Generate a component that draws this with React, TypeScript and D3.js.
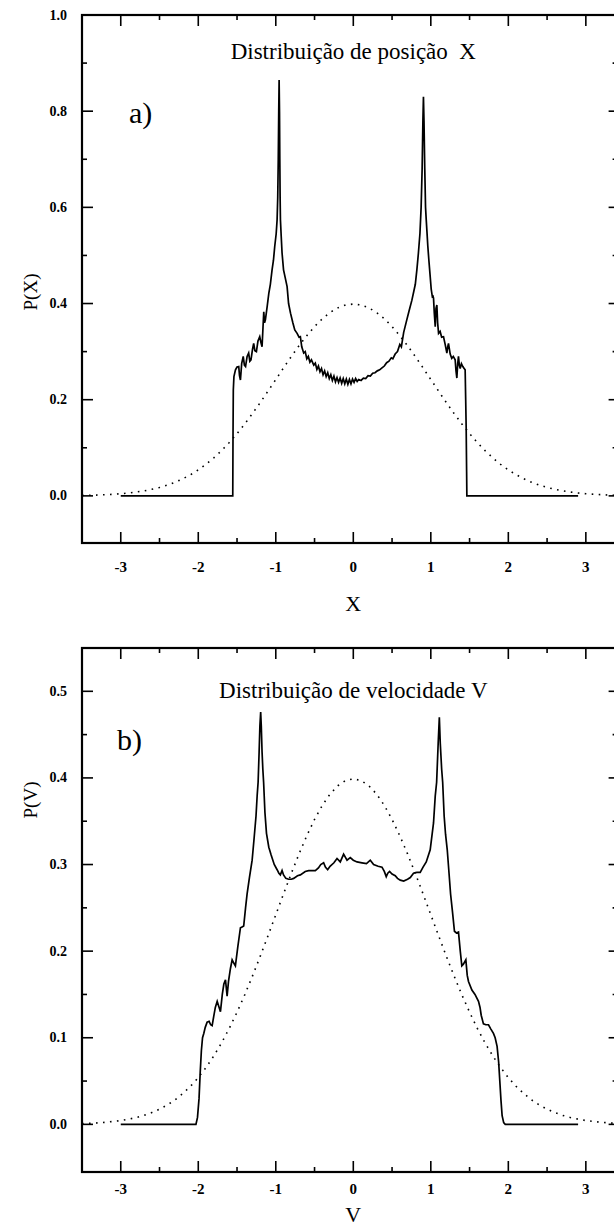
import React from 'react';
import * as d3 from 'd3';

const W = 614;
const H = 1230;

// ---------- tick values ----------
const xMajor = [-3, -2, -1, 0, 1, 2, 3];
const xMinor = [-2.5, -1.5, -0.5, 0.5, 1.5, 2.5];
const xLabels = ['-3', '-2', '-1', '0', '1', '2', '3'];
const posYMajor = [0, 0.2, 0.4, 0.6, 0.8, 1.0];
const posYMinor = [0.1, 0.3, 0.5, 0.7, 0.9];
const velYMajor = [0, 0.1, 0.2, 0.3, 0.4, 0.5];
const velYMinor = [0.05, 0.15, 0.25, 0.35, 0.45];

// ---------- reference normal curve (dotted) ----------
const normX = [-3.5,-3.4,-3.3,-3.2,-3.1,-3.0,-2.9,-2.8,-2.7,-2.6,-2.5,-2.4,-2.3,-2.2,-2.1,-2.0,-1.9,-1.8,-1.7,-1.6,-1.5,-1.4,-1.3,-1.2,-1.1,-1.0,-0.9,-0.8,-0.7,-0.6,-0.5,-0.4,-0.3,-0.2,-0.1,0.0,0.1,0.2,0.3,0.4,0.5,0.6,0.7,0.8,0.9,1.0,1.1,1.2,1.3,1.4,1.5,1.6,1.7,1.8,1.9,2.0,2.1,2.2,2.3,2.4,2.5,2.6,2.7,2.8,2.9,3.0,3.1,3.2,3.3,3.4,3.5];
const normP = [0.0009,0.0012,0.0017,0.0024,0.0033,0.0044,0.006,0.0079,0.0104,0.0136,0.0175,0.0224,0.0283,0.0355,0.044,0.054,0.0656,0.079,0.094,0.1109,0.1295,0.1497,0.1714,0.1942,0.2179,0.242,0.2661,0.2897,0.3123,0.3332,0.3521,0.3683,0.3814,0.391,0.397,0.3989,0.397,0.391,0.3814,0.3683,0.3521,0.3332,0.3123,0.2897,0.2661,0.242,0.2179,0.1942,0.1714,0.1497,0.1295,0.1109,0.094,0.079,0.0656,0.054,0.044,0.0355,0.0283,0.0224,0.0175,0.0136,0.0104,0.0079,0.006,0.0044,0.0033,0.0024,0.0017,0.0012,0.0009];

// ---------- position distribution P(X) ----------
const posX = [-3.0,-1.555,-1.552,-1.548,-1.54,-1.52,-1.5,-1.478,-1.468,-1.456,-1.44,-1.42,-1.405,-1.39,-1.37,-1.35,-1.335,-1.32,-1.3,-1.285,-1.27,-1.25,-1.23,-1.207,-1.19,-1.177,-1.165,-1.155,-1.145,-1.134,-1.11,-1.09,-1.07,-1.048,-1.03,-1.014,-0.995,-0.983,-0.975,-0.968,-0.962,-0.957,-0.952,-0.948,-0.944,-0.94,-0.93,-0.919,-0.9,-0.88,-0.854,-0.835,-0.81,-0.78,-0.755,-0.725,-0.7,-0.683,-0.665,-0.64,-0.62,-0.6,-0.58,-0.56,-0.54,-0.51,-0.49,-0.47,-0.45,-0.43,-0.41,-0.39,-0.37,-0.35,-0.33,-0.31,-0.29,-0.27,-0.25,-0.23,-0.21,-0.19,-0.17,-0.15,-0.13,-0.11,-0.09,-0.07,-0.05,-0.03,-0.01,0.01,0.03,0.05,0.07,0.1,0.13,0.16,0.19,0.22,0.25,0.28,0.31,0.34,0.37,0.4,0.43,0.46,0.49,0.51,0.54,0.57,0.6,0.62,0.65,0.69,0.72,0.756,0.78,0.8,0.82,0.84,0.86,0.875,0.888,0.898,0.905,0.912,0.922,0.932,0.941,0.95,0.961,0.975,0.99,1.005,1.02,1.028,1.035,1.045,1.057,1.067,1.078,1.088,1.1,1.12,1.14,1.164,1.185,1.207,1.218,1.228,1.25,1.27,1.29,1.314,1.325,1.336,1.347,1.357,1.368,1.379,1.395,1.413,1.43,1.443,1.45,1.456,1.462,1.465,2.9];
const posP = [0,0,0.12,0.22,0.248,0.262,0.268,0.269,0.25,0.241,0.275,0.29,0.272,0.269,0.29,0.297,0.28,0.283,0.305,0.317,0.302,0.3,0.322,0.331,0.318,0.31,0.35,0.383,0.36,0.366,0.395,0.421,0.44,0.47,0.49,0.518,0.545,0.574,0.62,0.7,0.8,0.865,0.8,0.7,0.62,0.574,0.54,0.505,0.47,0.455,0.435,0.4,0.38,0.36,0.345,0.338,0.33,0.331,0.31,0.297,0.3,0.285,0.29,0.278,0.283,0.272,0.276,0.263,0.27,0.258,0.265,0.252,0.26,0.248,0.256,0.244,0.252,0.24,0.249,0.237,0.246,0.236,0.245,0.234,0.244,0.233,0.243,0.232,0.242,0.233,0.243,0.236,0.244,0.238,0.242,0.24,0.245,0.244,0.25,0.249,0.255,0.256,0.26,0.262,0.266,0.27,0.277,0.28,0.287,0.285,0.295,0.3,0.315,0.31,0.34,0.366,0.385,0.407,0.425,0.44,0.47,0.505,0.546,0.6,0.68,0.78,0.83,0.78,0.68,0.6,0.574,0.55,0.52,0.49,0.46,0.43,0.414,0.415,0.411,0.38,0.352,0.39,0.397,0.36,0.338,0.342,0.33,0.331,0.315,0.297,0.31,0.317,0.295,0.286,0.29,0.283,0.26,0.245,0.275,0.29,0.272,0.265,0.275,0.269,0.265,0.262,0.2,0.144,0.05,0,0];

// ---------- velocity distribution P(V) ----------
const velX = [-3.0,-2.03,-2.01,-1.99,-1.975,-1.96,-1.945,-1.929,-1.91,-1.886,-1.86,-1.84,-1.821,-1.8,-1.78,-1.756,-1.735,-1.714,-1.69,-1.67,-1.649,-1.628,-1.61,-1.585,-1.563,-1.54,-1.521,-1.49,-1.456,-1.435,-1.414,-1.39,-1.37,-1.34,-1.305,-1.28,-1.255,-1.24,-1.228,-1.215,-1.205,-1.195,-1.187,-1.177,-1.167,-1.157,-1.14,-1.12,-1.09,-1.06,-1.02,-0.983,-0.96,-0.941,-0.919,-0.9,-0.87,-0.834,-0.8,-0.769,-0.72,-0.683,-0.62,-0.576,-0.49,-0.45,-0.42,-0.383,-0.36,-0.331,-0.3,-0.25,-0.21,-0.168,-0.125,-0.081,-0.039,0.0,0.048,0.112,0.17,0.219,0.262,0.32,0.37,0.4,0.425,0.445,0.468,0.5,0.541,0.57,0.606,0.65,0.7,0.735,0.777,0.82,0.863,0.9,0.941,0.992,1.035,1.057,1.075,1.095,1.11,1.122,1.14,1.153,1.172,1.19,1.212,1.235,1.255,1.28,1.305,1.33,1.357,1.38,1.4,1.42,1.452,1.47,1.486,1.53,1.57,1.615,1.635,1.65,1.679,1.71,1.744,1.775,1.808,1.83,1.855,1.875,1.89,1.905,1.92,1.94,1.96,2.9];
const velP = [0,0,0.008,0.03,0.06,0.085,0.1,0.105,0.112,0.118,0.119,0.115,0.114,0.125,0.135,0.142,0.136,0.13,0.15,0.162,0.167,0.148,0.165,0.18,0.19,0.186,0.183,0.205,0.227,0.228,0.229,0.25,0.266,0.285,0.305,0.33,0.356,0.38,0.395,0.43,0.46,0.476,0.46,0.43,0.41,0.395,0.36,0.336,0.32,0.311,0.3,0.294,0.29,0.288,0.293,0.288,0.284,0.283,0.283,0.284,0.287,0.288,0.292,0.293,0.293,0.296,0.3,0.302,0.297,0.294,0.298,0.302,0.307,0.303,0.312,0.305,0.308,0.305,0.303,0.302,0.301,0.305,0.3,0.298,0.297,0.292,0.286,0.29,0.292,0.289,0.287,0.284,0.282,0.281,0.283,0.285,0.29,0.291,0.291,0.297,0.303,0.317,0.348,0.379,0.395,0.44,0.47,0.44,0.41,0.395,0.356,0.335,0.317,0.29,0.266,0.245,0.223,0.221,0.222,0.2,0.183,0.185,0.19,0.172,0.165,0.155,0.15,0.142,0.135,0.126,0.116,0.115,0.115,0.11,0.105,0.1,0.09,0.072,0.05,0.028,0.01,0.002,0,0];

const FONT = '"Liberation Serif", "Times New Roman", serif';

type PanelProps = {
  y: d3.ScaleLinear<number, number>;
  yMajor: number[];
  yMinor: number[];
  yFmt: (v: number) => string;
  dataX: number[];
  dataY: number[];
  title: string;
  titleY: number;
  tag: string;
  tagX: number;
  tagY: number;
  yLabel: string;
  yLabelY: number;
  xLabel: string;
  tickLabelDy: number;
  xLabelDy: number;
};

const x = d3.scaleLinear().domain([-3.5, 3.5]).range([82, 624.6]);

function Panel(p: PanelProps) {
  const [yBot, yTop] = p.y.range();
  const xl = x.range()[0];
  const xr = x.range()[1];
  const n = Math.min(p.dataX.length, p.dataY.length);
  const idx = d3.range(n);
  const line = d3.line<number>().x(i => x(p.dataX[i])).y(i => p.y(p.dataY[i]));
  const nIdx = d3.range(Math.min(normX.length, normP.length));
  const dline = d3.line<number>().x(i => x(normX[i])).y(i => p.y(normP[i]));
  const major = 11;
  const minor = 5;
  const cx = x(0);
  return (
    <g>
      <rect x={xl} y={yTop} width={xr - xl} height={yBot - yTop} fill="none" stroke="#000" strokeWidth={2.2} />
      {xMajor.map(v => (
        <g key={'xm' + v}>
          <line x1={x(v)} x2={x(v)} y1={yBot} y2={yBot - major} stroke="#000" strokeWidth={1.6} />
          <line x1={x(v)} x2={x(v)} y1={yTop} y2={yTop + major} stroke="#000" strokeWidth={1.6} />
        </g>
      ))}
      {xMinor.map(v => (
        <g key={'xn' + v}>
          <line x1={x(v)} x2={x(v)} y1={yBot} y2={yBot - minor} stroke="#000" strokeWidth={1.6} />
          <line x1={x(v)} x2={x(v)} y1={yTop} y2={yTop + minor} stroke="#000" strokeWidth={1.6} />
        </g>
      ))}
      {p.yMajor.map(v => (
        <g key={'ym' + v}>
          <line x1={xl} x2={xl + major} y1={p.y(v)} y2={p.y(v)} stroke="#000" strokeWidth={1.6} />
          <line x1={xr} x2={xr - 16} y1={p.y(v)} y2={p.y(v)} stroke="#000" strokeWidth={1.6} />
        </g>
      ))}
      {p.yMinor.map(v => (
        <g key={'yn' + v}>
          <line x1={xl} x2={xl + minor} y1={p.y(v)} y2={p.y(v)} stroke="#000" strokeWidth={1.6} />
          <line x1={xr} x2={xr - 12} y1={p.y(v)} y2={p.y(v)} stroke="#000" strokeWidth={1.6} />
        </g>
      ))}
      {xMajor.map((v, i) => (
        <text key={'xl' + v} x={x(v)} y={yBot + p.tickLabelDy} textAnchor="middle" fontFamily={FONT} fontWeight="bold" fontSize={15}>{xLabels[i]}</text>
      ))}
      {p.yMajor.map(v => (
        <text key={'yl' + v} x={67} y={p.y(v) + 4.5} textAnchor="end" fontFamily={FONT} fontWeight="bold" fontSize={14}>{p.yFmt(v)}</text>
      ))}
      <text x={cx} y={yBot + p.xLabelDy} textAnchor="middle" fontFamily={FONT} fontSize={22}>{p.xLabel}</text>
      <text transform={`translate(37,${p.yLabelY}) rotate(-90)`} textAnchor="middle" fontFamily={FONT} fontSize={19}>{p.yLabel}</text>
      <text x={cx} y={p.titleY} textAnchor="middle" fontFamily={FONT} fontSize={23} style={{ whiteSpace: 'pre' }}>{p.title}</text>
      <text x={p.tagX} y={p.tagY} fontFamily={FONT} fontSize={30}>{p.tag}</text>
      <path d={dline(nIdx) || ''} fill="none" stroke="#000" strokeWidth={1.6} strokeDasharray="1.6 5.4" />
      <path d={line(idx) || ''} fill="none" stroke="#000" strokeWidth={1.7} strokeLinejoin="miter" />
    </g>
  );
}

export default function App() {
  const yP = d3.scaleLinear().domain([-0.098, 1.0]).range([543, 15]);
  const yV = d3.scaleLinear().domain([-0.055, 0.55]).range([1172, 648]);
  const fmt1 = d3.format('.1f');
  return (
    <svg width={W} height={H} style={{ position: 'absolute', left: 0, top: 0, background: '#fff' }}>
      <rect x={0} y={0} width={W} height={H} fill="#fff" />
      <Panel y={yP} yMajor={posYMajor} yMinor={posYMinor} yFmt={fmt1} dataX={posX} dataY={posP}
        title="Distribuição de posição  X" titleY={59} tag="a)" tagX={129} tagY={123}
        yLabel="P(X)" yLabelY={292} xLabel="X" tickLabelDy={29} xLabelDy={68} />
      <Panel y={yV} yMajor={velYMajor} yMinor={velYMinor} yFmt={fmt1} dataX={velX} dataY={velP}
        title="Distribuição de velocidade V" titleY={698} tag="b)" tagX={117} tagY={750}
        yLabel="P(V)" yLabelY={800} xLabel="V" tickLabelDy={22} xLabelDy={50} />
    </svg>
  );
}
